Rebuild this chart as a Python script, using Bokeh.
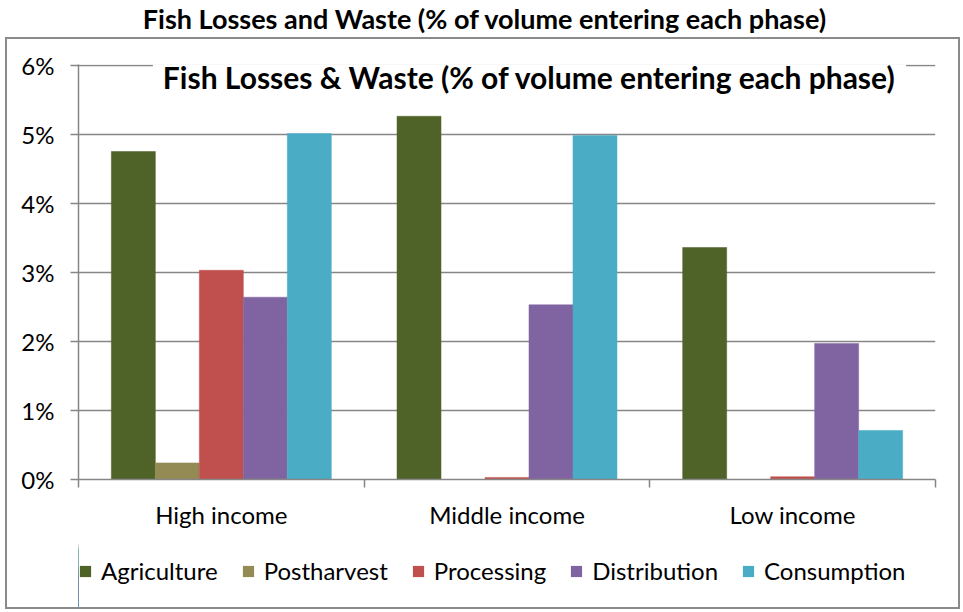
import numpy as np
from bokeh.plotting import figure
from bokeh.layouts import column
from bokeh.models import (Range1d, FixedTicker, PrintfTickFormatter, Legend,
                          LegendItem, Label, ColumnDataSource, Div)
from bokeh.embed import file_html
from bokeh.resources import INLINE

# ---- data ----
categories = ["High income", "Middle income", "Low income"]
phases = ["Agriculture", "Postharvest", "Processing", "Distribution", "Consumption"]
agriculture = [4.75, 5.26, 3.36]
postharvest = [0.24, 0.00, 0.00]
processing = [3.03, 0.03, 0.04]
distribution = [2.64, 2.53, 1.97]
consumption = [5.01, 4.98, 0.71]
colors = ["#4F6228", "#948A54", "#C0504D", "#8064A2", "#4BACC6"]
y_ticks = [0, 1, 2, 3, 4, 5, 6]
outer_title = "Fish Losses and Waste (% of volume entering each phase)"
inner_title = "Fish Losses & Waste (% of volume entering each phase)"

series = [agriculture, postharvest, processing, distribution, consumption]

FONT = "Lato"
GRAY = "#868686"

title_div = Div(text=outer_title, width=963, height=37, margin=0,
                styles={"text-align": "center", "font-family": FONT,
                        "font-weight": "bold", "font-size": "27px",
                        "line-height": "38px", "color": "black",
                        "padding-left": "6px"})

# ---- main chart ----
p = figure(width=951, height=496, x_range=Range1d(0, len(categories)),
           y_range=Range1d(0, 6.01), output_backend="svg", toolbar_location=None,
           min_border_left=71, min_border_right=23, min_border_top=25,
           min_border_bottom=56, margin=0)
p.outline_line_color = None
p.background_fill_color = "white"
p.border_fill_color = "white"

bar_w = 0.154
centers = np.arange(len(categories)) + 0.5
sources = []
for j, (name, vals, col) in enumerate(zip(phases, series, colors)):
    src = ColumnDataSource(dict(x=centers + (j - 2) * bar_w, top=vals))
    sources.append(src)
    p.vbar(x="x", top="top", width=bar_w, source=src, fill_color=col,
           line_color=col, line_width=0.5)

# x axis: labels at centres, tick marks between categories
p.xaxis.ticker = FixedTicker(ticks=list(centers),
                             minor_ticks=list(range(len(categories) + 1)))
p.xaxis.major_label_overrides = {float(c): cat for c, cat in zip(centers, categories)}
p.xaxis.major_tick_line_color = None
p.xaxis.major_tick_out = 8
p.xaxis.major_tick_in = 0
p.xaxis.minor_tick_out = 8
p.xaxis.minor_tick_in = 0
p.xaxis.minor_tick_line_color = GRAY
p.xaxis.minor_tick_line_width = 1.5
p.xaxis.axis_line_color = GRAY
p.xaxis.axis_line_width = 1.5
p.xaxis.major_label_standoff = 12
p.xaxis.major_label_text_font = FONT
p.xaxis.major_label_text_font_size = "24px"
p.xaxis.major_label_text_color = "black"

# y axis
p.yaxis.ticker = FixedTicker(ticks=y_ticks)
p.yaxis.formatter = PrintfTickFormatter(format="%d%%")
p.yaxis.major_tick_out = 8
p.yaxis.major_tick_in = 0
p.yaxis.minor_tick_line_color = None
p.yaxis.major_tick_line_color = GRAY
p.yaxis.major_tick_line_width = 1.5
p.yaxis.axis_line_color = GRAY
p.yaxis.axis_line_width = 1.5
p.yaxis.major_label_standoff = 16
p.yaxis.major_label_text_font = FONT
p.yaxis.major_label_text_font_size = "24px"
p.yaxis.major_label_text_color = "black"

p.xgrid.grid_line_color = None
p.ygrid.grid_line_color = GRAY
p.ygrid.grid_line_width = 1.5

# inner chart title (white box over the top gridline)
p.add_layout(Label(x=522, y=37, x_units="canvas", y_units="canvas",
                   text=inner_title, text_align="center", text_baseline="middle",
                   text_font=FONT, text_font_style="bold",
                   text_font_size="30px", text_color="black",
                   background_fill_color="white", padding=10))

# ---- legend strip: same series sources, only their legend swatches show ----
lf = figure(width=951, height=72, x_range=Range1d(10, 10 + len(categories)),
            y_range=Range1d(0, 6), x_axis_type=None, y_axis_type=None,
            output_backend="svg", toolbar_location=None, min_border=0, margin=0)
lf.outline_line_color = None
lf.xgrid.grid_line_color = None
lf.ygrid.grid_line_color = None
items = []
for name, src, col in zip(phases, sources, colors):
    r = lf.vbar(x="x", top="top", width=bar_w, source=src, fill_color=col,
                line_color=None)
    items.append(LegendItem(label=name, renderers=[r]))
legend = Legend(items=items, orientation="horizontal", location=(0, 22),
                glyph_width=14, glyph_height=14, label_standoff=9, spacing=23,
                label_text_font=FONT, label_text_font_size="24px",
                label_text_color="black",
                border_line_color=None, background_fill_alpha=0,
                padding=0, margin=0)
lf.add_layout(legend, "center")

box = column(p, lf, margin=(0, 0, 0, 5), spacing=0,
             styles={"border": "2px solid #8a8a8a"})
layout = column(title_div, box, spacing=0)
open("out.html", "w").write(file_html(layout, INLINE))
